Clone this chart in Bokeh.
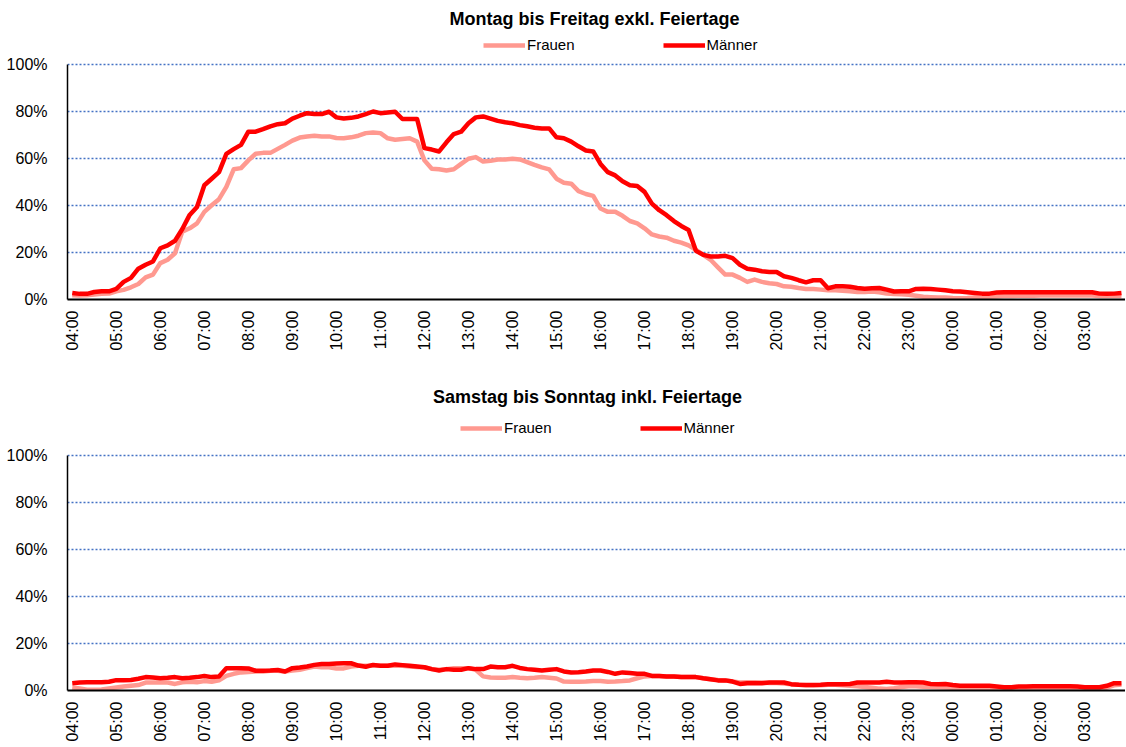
import math
from bokeh.plotting import figure
from bokeh.models import (Legend, LegendItem, FixedTicker, PrintfTickFormatter,
                          Range1d, Label)
from bokeh.layouts import column
from bokeh.embed import file_html
from bokeh.resources import INLINE

# ---------------- data (share in %, 10-minute steps starting 04:00) ----------------
hour_labels = ["04:00", "05:00", "06:00", "07:00", "08:00", "09:00", "10:00", "11:00",
               "12:00", "13:00", "14:00", "15:00", "16:00", "17:00", "18:00", "19:00",
               "20:00", "21:00", "22:00", "23:00", "00:00", "01:00", "02:00", "03:00"]

series_names = ["Frauen", "Männer"]
panel_titles = ["Montag bis Freitag exkl. Feiertage", "Samstag bis Sonntag inkl. Feiertage"]

weekday_frauen = [
    1.8, 1.7, 1.8, 2.1, 2.4, 2.5, 3.5, 4.1, 5.2, 6.6,
    9.4, 10.6, 15.5, 16.9, 19.7, 28.9, 30.3, 32.4, 37.3, 40.1,
    42.7, 47.9, 55.4, 55.9, 59.2, 62.0, 62.4, 62.4, 64.1, 65.8,
    67.6, 68.9, 69.4, 69.7, 69.4, 69.4, 68.7, 68.6, 69.0, 69.7,
    70.8, 71.1, 70.8, 68.6, 68.0, 68.3, 68.6, 67.2, 59.2, 55.6,
    55.4, 54.9, 55.4, 57.7, 59.9, 60.6, 58.7, 59.0, 59.6, 59.6,
    59.9, 59.6, 58.5, 57.3, 56.2, 55.4, 51.4, 49.7, 49.3, 46.1,
    44.9, 44.1, 38.7, 37.3, 37.3, 35.6, 33.4, 32.4, 30.3, 27.7,
    26.8, 26.3, 25.0, 24.2, 23.0, 21.1, 19.0, 16.9, 13.7, 10.6,
    10.6, 9.2, 7.5, 8.5, 7.5, 6.9, 6.6, 5.6, 5.4, 4.9,
    4.5, 4.5, 4.2, 3.9, 3.9, 3.7, 3.5, 3.2, 3.2, 3.4,
    3.1, 2.5, 2.3, 2.2, 2.0, 1.6, 1.2, 1.0, 0.8, 0.8,
    0.6, 0.5, 0.6, 0.9, 1.0, 1.2, 1.3, 1.5, 1.5, 1.6,
    1.6, 1.6, 1.7, 1.7, 1.7, 1.7, 1.7, 1.7, 1.7, 1.7,
    1.5, 1.5, 1.5, 1.5,
]

weekday_maenner = [
    2.8, 2.4, 2.4, 3.2, 3.5, 3.5, 4.5, 7.5, 9.2, 13.1,
    14.8, 16.2, 21.8, 23.0, 25.0, 30.0, 36.0, 39.4, 48.6, 51.4,
    54.2, 62.0, 64.0, 65.8, 71.4, 71.4, 72.5, 73.7, 74.6, 75.0,
    77.0, 78.2, 79.3, 78.9, 78.9, 79.9, 77.5, 77.0, 77.3, 77.9,
    78.9, 80.0, 79.3, 79.6, 79.9, 76.8, 76.8, 76.8, 64.4, 63.8,
    63.0, 66.9, 70.4, 71.4, 75.0, 77.5, 77.9, 77.0, 76.0, 75.4,
    75.0, 74.2, 73.7, 73.1, 72.8, 72.8, 69.0, 68.6, 67.2, 65.2,
    63.4, 63.0, 57.7, 54.2, 52.8, 50.3, 48.6, 48.3, 45.8, 40.8,
    38.0, 35.9, 33.4, 31.3, 29.6, 20.7, 19.0, 18.3, 18.3, 18.6,
    17.6, 14.8, 13.1, 12.7, 12.0, 11.7, 11.7, 9.9, 9.2, 8.2,
    7.3, 8.2, 8.2, 4.8, 5.6, 5.6, 5.4, 4.9, 4.6, 4.8,
    4.9, 4.2, 3.4, 3.5, 3.5, 4.5, 4.6, 4.5, 4.2, 3.9,
    3.5, 3.4, 3.1, 2.8, 2.5, 2.5, 3.0, 3.1, 3.1, 3.1,
    3.1, 3.1, 3.1, 3.1, 3.1, 3.1, 3.1, 3.1, 3.1, 3.1,
    2.5, 2.4, 2.5, 2.8,
]

weekend_frauen = [
    1.3, 0.9, 0.3, 0.3, 0.4, 0.9, 1.3, 1.7, 2.0, 2.3,
    3.4, 3.4, 3.4, 3.4, 2.8, 3.5, 3.7, 3.5, 4.0, 3.7,
    4.3, 6.2, 7.1, 7.7, 7.9, 8.1, 8.1, 8.4, 8.4, 8.1,
    8.5, 8.8, 9.5, 10.2, 9.9, 9.9, 9.4, 9.4, 10.2, 10.5,
    10.5, 10.5, 10.5, 10.5, 10.5, 10.5, 10.2, 10.0, 9.9, 9.1,
    8.8, 9.1, 9.5, 9.5, 9.5, 8.8, 6.0, 5.5, 5.4, 5.4,
    5.7, 5.4, 5.2, 5.4, 5.7, 5.4, 5.1, 3.8, 3.7, 3.7,
    3.8, 4.0, 4.0, 3.7, 3.8, 4.0, 4.3, 5.2, 6.0, 6.2,
    6.2, 6.0, 6.0, 5.7, 5.7, 5.7, 5.2, 4.8, 4.5, 4.3,
    3.8, 3.4, 3.5, 3.5, 3.4, 3.2, 3.2, 3.0, 2.6, 2.4,
    2.2, 2.2, 2.2, 2.4, 2.4, 2.2, 2.0, 1.8, 1.5, 1.2,
    0.8, 0.6, 1.0, 1.5, 1.8, 1.8, 1.6, 1.5, 1.4, 1.3,
    1.2, 1.2, 1.1, 1.1, 1.1, 1.1, 1.0, 0.9, 0.9, 1.0,
    1.1, 1.1, 1.1, 1.1, 1.1, 1.1, 1.1, 1.0, 0.9, 0.9,
    0.9, 1.2, 2.2, 2.5,
]

weekend_maenner = [
    3.1, 3.4, 3.5, 3.5, 3.5, 3.7, 4.4, 4.4, 4.5, 5.0,
    5.7, 5.5, 5.2, 5.4, 5.7, 5.2, 5.4, 5.7, 6.2, 5.7,
    6.0, 9.5, 9.5, 9.5, 9.4, 8.4, 8.4, 8.5, 8.7, 8.1,
    9.5, 9.8, 10.2, 10.9, 11.3, 11.3, 11.5, 11.6, 11.6, 10.6,
    10.1, 10.9, 10.5, 10.5, 11.1, 10.8, 10.5, 10.2, 9.9, 9.1,
    8.5, 9.1, 8.8, 8.8, 9.5, 9.1, 9.1, 10.2, 9.9, 9.9,
    10.5, 9.6, 9.1, 8.8, 8.5, 8.8, 9.1, 8.1, 7.7, 7.8,
    8.1, 8.5, 8.5, 7.9, 7.1, 7.7, 7.4, 7.1, 7.1, 6.2,
    6.2, 6.0, 6.0, 5.7, 5.7, 5.7, 5.2, 4.8, 4.3, 4.3,
    3.8, 2.8, 3.1, 3.1, 3.1, 3.4, 3.4, 3.4, 2.7, 2.4,
    2.3, 2.3, 2.4, 2.7, 2.7, 2.7, 2.8, 3.4, 3.4, 3.4,
    3.4, 3.7, 3.4, 3.4, 3.5, 3.5, 3.4, 2.8, 2.7, 2.8,
    2.3, 2.0, 2.0, 2.0, 2.0, 2.0, 1.7, 1.4, 1.4, 1.7,
    1.7, 1.8, 1.8, 1.8, 1.8, 1.8, 1.8, 1.7, 1.4, 1.4,
    1.4, 2.0, 3.1, 3.1,
]

y_ticks = [0, 20, 40, 60, 80, 100]

# ---------------- styling / layout ----------------
FONT = "Liberation Sans"
COL_F = "#FF9990"
COL_M = "#FF0000"
AXIS_H = 235                       # px from 0% to 100%
PX_PER_UNIT = AXIS_H / 100.0
FIG_W = 1125
BORDER_L = 67
X_LO, X_HI = -0.65, 143.55
PX_PER_X = (FIG_W - BORDER_L) / (X_HI - X_LO)


def make_panel(title, frauen, maenner, head_px, bottom_px, title_px, title_cx,
               legend_px, legend_x):
    """head_px: extra frame space above the 100% line (holds title and legend)."""
    n = len(frauen)
    x = list(range(n))
    frame_h = AXIS_H + head_px
    height = 2 + frame_h + bottom_px
    p = figure(width=FIG_W, height=height, output_backend="svg", toolbar_location=None,
               x_range=Range1d(X_LO, X_HI), y_range=Range1d(0, 100 * frame_h / AXIS_H),
               min_border_left=BORDER_L, min_border_right=0,
               min_border_top=2, min_border_bottom=bottom_px)
    p.outline_line_color = None
    p.background_fill_color = "white"
    p.border_fill_color = "white"

    rf = p.line(x, frauen, line_color=COL_F, line_width=4.5, line_join="round")
    rm = p.line(x, maenner, line_color=COL_M, line_width=4.5, line_join="round")

    p.add_layout(Label(x=(title_cx - BORDER_L) / PX_PER_X + X_LO,
                       y=100 + title_px / PX_PER_UNIT, text=title,
                       text_align="center", text_baseline="middle",
                       text_font=FONT, text_font_size="18px", text_font_style="bold",
                       text_color="black"))

    legend = Legend(items=[LegendItem(label=series_names[0], renderers=[rf]),
                           LegendItem(label=series_names[1], renderers=[rm])],
                    orientation="horizontal",
                    location=(legend_x, AXIS_H + legend_px - 8))
    legend.label_text_font = FONT
    legend.label_text_font_size = "15px"
    legend.label_text_color = "black"
    legend.glyph_width = 42
    legend.glyph_height = 16
    legend.label_height = 16
    legend.label_standoff = 2
    legend.spacing = 88
    legend.padding = 0
    legend.margin = 0
    legend.border_line_color = None
    legend.background_fill_alpha = 0
    p.add_layout(legend, "center")

    # x axis
    xa = p.xaxis[0]
    xa.ticker = FixedTicker(ticks=[6 * k for k in range(len(hour_labels))])
    xa.major_label_overrides = {6 * k: lab for k, lab in enumerate(hour_labels)}
    xa.major_label_orientation = math.pi / 2
    xa.major_label_text_font = FONT
    xa.major_label_text_font_size = "16px"
    xa.major_label_text_color = "black"
    xa.major_tick_line_color = None
    xa.minor_tick_line_color = None
    xa.axis_line_color = "black"
    xa.axis_line_width = 2
    xa.major_label_standoff = 5

    # y axis (line drawn only from 0 % to 100 %)
    ya = p.yaxis[0]
    ya.ticker = FixedTicker(ticks=y_ticks)
    ya.bounds = (0, 100)
    ya.formatter = PrintfTickFormatter(format="%d%%")
    ya.major_label_text_font = FONT
    ya.major_label_text_font_size = "16px"
    ya.major_label_text_color = "black"
    ya.major_tick_line_color = None
    ya.minor_tick_line_color = None
    ya.axis_line_color = "black"
    ya.axis_line_width = 1.5
    ya.major_label_standoff = 14

    p.xgrid.grid_line_color = None
    p.ygrid.ticker = FixedTicker(ticks=y_ticks[1:])
    p.ygrid.grid_line_color = "#4472C4"
    p.ygrid.grid_line_width = 1.5
    p.ygrid.grid_line_dash = "2 2"
    return p


# panel 1: page y 0..375, 100% line at y=64, 0% at y=299
p1 = make_panel(panel_titles[0], weekday_frauen, weekday_maenner,
                head_px=62, bottom_px=76, title_px=46, title_cx=594,
                legend_px=19, legend_x=416)
# panel 2: page y 375..747, 100% line at y=455, 0% at y=690
p2 = make_panel(panel_titles[1], weekend_frauen, weekend_maenner,
                head_px=78, bottom_px=57, title_px=59, title_cx=587,
                legend_px=27, legend_x=393)

layout = column(p1, p2, spacing=0)
open("out.html", "w").write(file_html(layout, INLINE))
